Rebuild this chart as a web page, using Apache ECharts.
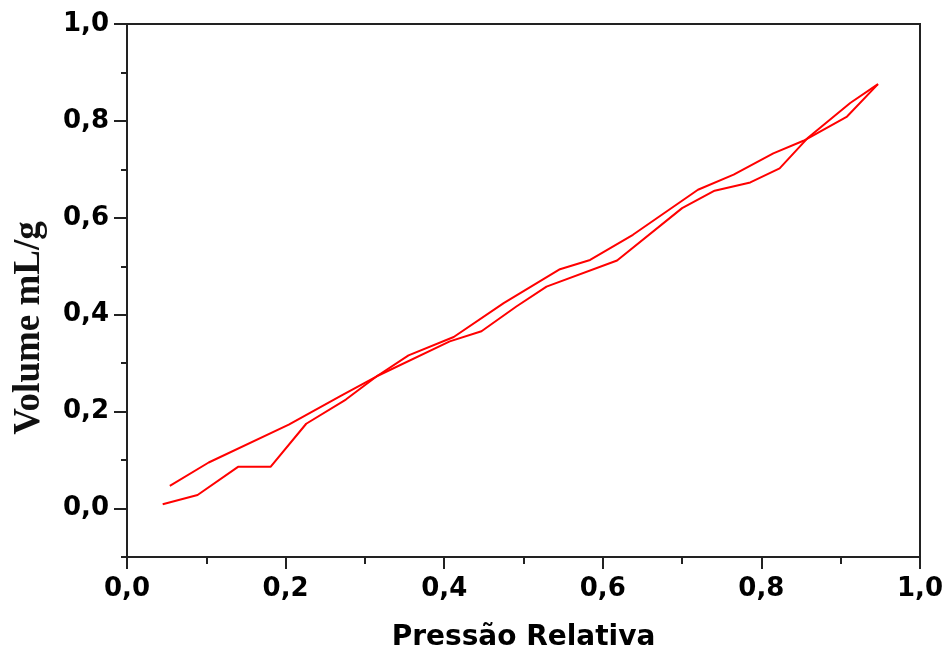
<!DOCTYPE html>
<html>
<head>
<meta charset="utf-8">
<script src="https://cdn.jsdelivr.net/npm/echarts@6/dist/echarts.min.js"></script>
<style>
html,body{margin:0;padding:0;background:#fff;}
#chart{width:950px;height:659px;}
</style>
</head>
<body>
<div id="chart"></div>
<script>
// Adsorption branch (relative pressure, volume mL/g)
const adsorptionP = [0.045,0.089,0.140,0.181,0.226,0.276,0.315,0.355,0.412,0.475,0.546,0.584,0.638,0.720,0.765,0.815,0.853,0.908,0.947];
const adsorptionV = [0.009,0.028,0.086,0.086,0.175,0.225,0.273,0.316,0.354,0.424,0.494,0.513,0.565,0.658,0.689,0.733,0.759,0.809,0.876];
// Desorption branch
const desorptionP = [0.054,0.103,0.204,0.269,0.315,0.407,0.447,0.491,0.529,0.618,0.700,0.741,0.786,0.823,0.858,0.912,0.947];
const desorptionV = [0.047,0.095,0.173,0.232,0.273,0.345,0.366,0.417,0.458,0.512,0.620,0.656,0.673,0.702,0.764,0.837,0.876];
// Tick values
const yLabelTicks = [0,0.2,0.4,0.6,0.8,1.0];
const yMinorTicks = [-0.1,0.1,0.3,0.5,0.7,0.9];
const xTitle = 'Pressão Relativa';
const yTitle = 'Volume mL/g';

const fmt = v => Number(v).toFixed(1).replace('.', ',');
const axisColor = '#222';

const chart = echarts.init(document.getElementById('chart'), null, {renderer:'canvas'});
chart.setOption({
  animation:false,
  backgroundColor:'#fff',
  grid:{left:127,right:30,top:24,bottom:102,show:true,borderColor:axisColor,borderWidth:2,backgroundColor:'transparent'},
  graphic:[{
    type:'text',x:29,y:328,rotation:Math.PI/2,
    style:{text:yTitle,fontFamily:'Liberation Serif',fontWeight:'bold',fontSize:37,fill:'#111',align:'center',verticalAlign:'middle'}
  }],
  xAxis:[{
    type:'value',min:0,max:1,interval:0.2,
    name:xTitle,nameLocation:'middle',nameGap:67,
    nameTextStyle:{fontFamily:'DejaVu Sans',fontWeight:'bold',fontSize:28,color:'#000'},
    axisLine:{show:true,onZero:false,lineStyle:{color:axisColor,width:2}},
    axisTick:{show:true,inside:false,length:12,lineStyle:{color:axisColor,width:2}},
    minorTick:{show:true,splitNumber:2,length:7,lineStyle:{color:axisColor,width:2}},
    splitLine:{show:false},minorSplitLine:{show:false},
    axisLabel:{formatter:fmt,margin:19,fontFamily:'DejaVu Sans',fontWeight:'bold',fontSize:26,color:'#000'}
  }],
  yAxis:[{
    type:'value',min:-0.1,max:1.0,interval:0.1,position:'left',offset:0,
    axisLine:{show:true,onZero:false,lineStyle:{color:axisColor,width:2}},
    axisTick:{show:true,inside:false,length:13,customValues:yLabelTicks,lineStyle:{color:axisColor,width:2}},
    splitLine:{show:false},
    axisLabel:{customValues:yLabelTicks,formatter:fmt,margin:18,fontFamily:'DejaVu Sans',fontWeight:'bold',fontSize:26,color:'#000'}
  },{
    type:'value',min:-0.1,max:1.0,interval:0.1,position:'left',offset:0,
    axisLine:{show:false},
    axisTick:{show:true,inside:false,length:6,customValues:yMinorTicks,lineStyle:{color:axisColor,width:2}},
    splitLine:{show:false},
    axisLabel:{show:false}
  }],
  series:[{
    name:'Adsorção',type:'line',xAxisIndex:0,yAxisIndex:0,
    data:adsorptionP.map((p,i)=>[p,adsorptionV[i]]),
    showSymbol:false,symbol:'none',
    lineStyle:{color:'#ff0000',width:2},itemStyle:{color:'#ff0000'}
  },{
    name:'Dessorção',type:'line',xAxisIndex:0,yAxisIndex:0,
    data:desorptionP.map((p,i)=>[p,desorptionV[i]]),
    showSymbol:false,symbol:'none',
    lineStyle:{color:'#ff0000',width:2},itemStyle:{color:'#ff0000'}
  }]
});
</script>
</body>
</html>
